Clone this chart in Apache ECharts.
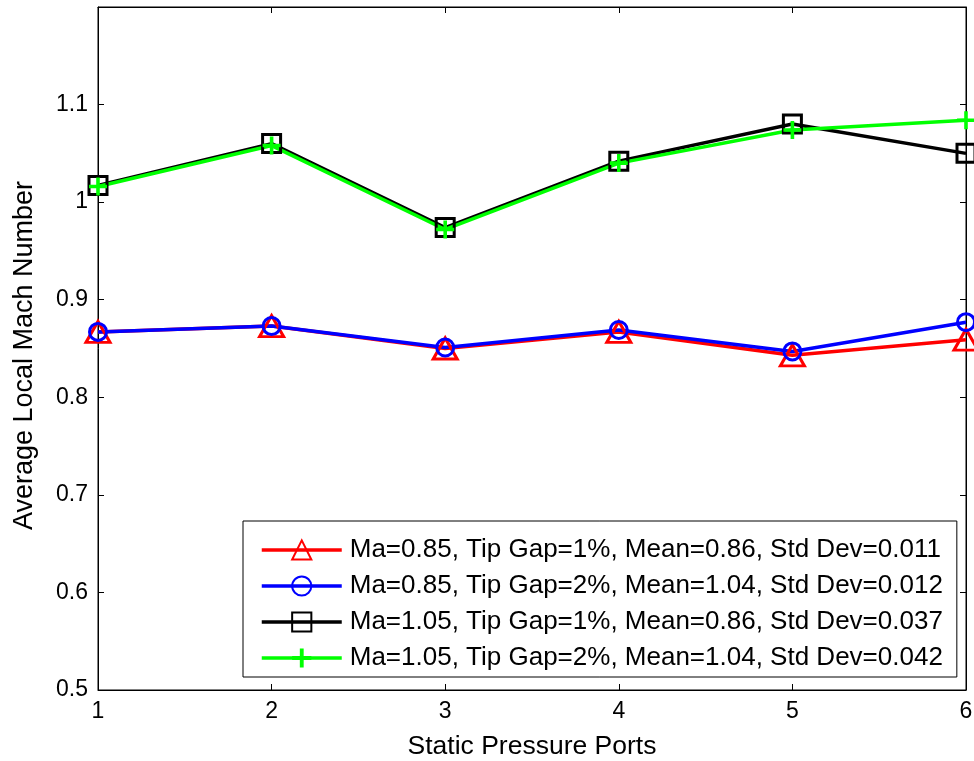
<!DOCTYPE html>
<html>
<head>
<meta charset="utf-8">
<script src="https://cdn.jsdelivr.net/npm/echarts@6/dist/echarts.min.js"></script>
<style>
  html, body { margin: 0; padding: 0; background: #fff; }
  #main { width: 974px; height: 761px; }
</style>
</head>
<body>
<div id="main"></div>
<script>
// static pressure port numbers
let ports = [1, 2, 3, 4, 5, 6];
// average local mach number per port
let ma085gap1 = [0.867, 0.873, 0.850, 0.867, 0.843, 0.859];
let ma085gap2 = [0.867, 0.873, 0.851, 0.869, 0.847, 0.877];
let ma105gap1 = [1.017, 1.060, 0.974, 1.042, 1.080, 1.050];
let ma105gap2 = [1.016, 1.058, 0.972, 1.040, 1.074, 1.084];
let names = [
  'Ma=0.85, Tip Gap=1%, Mean=0.86, Std Dev=0.011',
  'Ma=0.85, Tip Gap=2%, Mean=1.04, Std Dev=0.012',
  'Ma=1.05, Tip Gap=1%, Mean=0.86, Std Dev=0.037',
  'Ma=1.05, Tip Gap=2%, Mean=1.04, Std Dev=0.042'
];

let font = 'Liberation Sans, Arial, Helvetica, sans-serif';
let plus = 'path://M4,0 H6 V4 H10 V6 H6 V10 H4 V6 H0 V4 H4 Z';

function pairs(ys){
  return ports.map(function(x, i){ return [x, ys[i]]; });
}

// markers are hollow (line shows through), like matlab
function mkSeries(name, ys, color, symbol, size, filled){
  return {
    name: name,
    type: 'line',
    data: pairs(ys),
    symbol: symbol,
    symbolSize: size,
    lineStyle: { color: color, width: 3.5 },
    itemStyle: filled
      ? { color: color, borderWidth: 0 }
      : { color: 'rgba(255,255,255,0)', borderColor: color, borderWidth: 3 },
    emphasis: { disabled: true },
    animation: false
  };
}

let chart = echarts.init(document.getElementById('main'));

let axisCommon = {
  axisLine: { show: true, lineStyle: { color: '#000', width: 1 } },
  axisTick: { show: true, inside: true, length: 6, lineStyle: { color: '#000' } },
  splitLine: { show: false }
};

let option = {
  backgroundColor: '#fff',
  grid: {
    left: 98, right: 8, top: 7, bottom: 71,
    outerBoundsMode: 'none', containLabel: false,
    show: true, borderColor: '#000', borderWidth: 1
  },
  legend: {
    orient: 'vertical',
    left: 243,
    top: 521,
    padding: [16, 14, 6, 17],
    itemWidth: 80,
    itemHeight: 24,
    itemGap: 10,
    backgroundColor: '#fff',
    borderColor: '#000',
    borderWidth: 1,
    selectedMode: false,
    lineStyle: { width: 3.5 },
    textStyle: { fontFamily: font, fontSize: 26, color: '#000', padding: [0, 0, 0, 3] },
    data: names
  },
  xAxis: [
    Object.assign({
      type: 'value', min: 1, max: 6, interval: 1,
      name: 'Static Pressure Ports', nameLocation: 'middle', nameGap: 43,
      nameTextStyle: { fontFamily: font, fontSize: 26.5, color: '#000' },
      axisLabel: { fontFamily: font, fontSize: 23, color: '#000', margin: 10 }
    }, axisCommon),
    Object.assign({
      type: 'value', min: 1, max: 6, interval: 1, position: 'top',
      axisLabel: { show: false }
    }, axisCommon)
  ],
  yAxis: [
    Object.assign({
      type: 'value', min: 0.5, max: 1.2, interval: 0.1,
      name: 'Average Local Mach Number', nameLocation: 'middle', nameGap: 60,
      nameTextStyle: { fontFamily: font, fontSize: 27, color: '#000', padding: [0, 14, 0, 0] },
      axisLabel: {
        fontFamily: font, fontSize: 23, color: '#000', margin: 10,
        formatter: function(v){ return v > 1.15 ? '' : String(Math.round(v * 10) / 10); }
      }
    }, axisCommon),
    Object.assign({
      type: 'value', min: 0.5, max: 1.2, interval: 0.1, position: 'right',
      axisLabel: { show: false }
    }, axisCommon)
  ],
  series: [
    mkSeries(names[0], ma085gap1, '#ff0000', 'triangle', [24, 21], false),
    mkSeries(names[1], ma085gap2, '#0000ff', 'circle', 17, false),
    mkSeries(names[2], ma105gap1, '#000000', 'rect', 18, false),
    mkSeries(names[3], ma105gap2, '#00ff00', plus, 18, true)
  ]
};

chart.setOption(option);
</script>
</body>
</html>
